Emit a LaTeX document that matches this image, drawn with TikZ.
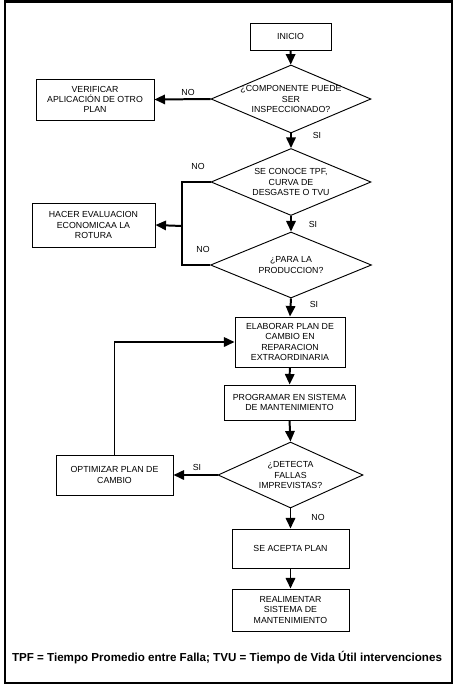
\documentclass[tikz,border=0pt]{standalone}
\usepackage{fontspec}
\setmainfont{Liberation Sans}
\usetikzlibrary{arrows.meta,shapes.geometric}

\begin{document}
\begin{tikzpicture}[
    x=0.03cm, y=-0.03cm,
    box/.style={draw, line width=0.8pt, align=center, inner sep=1pt},
    decision/.style={diamond, draw, line width=0.8pt, align=center, aspect=2.35, inner sep=-4pt},
    lbl/.style={inner sep=1pt},
    >={Triangle[length=9pt, width=8pt]},
    flow/.style={line width=1.7pt},
    font=\fontsize{7.5}{8.8}\selectfont
]
    \useasboundingbox (0,0) rectangle (457,687);
    % marco exterior
    \draw[line width=2pt] (5,1.5) rectangle (452,683);

    % nodos de la columna central
    \node[box, minimum width=2.43cm, minimum height=0.81cm] (ini) at (290.5,36.5) {INICIO};
    \node[decision, minimum width=4.8cm, minimum height=2.04cm] (d1) at (291,99)
        {¿COMPONENTE PUEDE\\SER\\INSPECCIONADO?};
    \node[decision, minimum width=4.8cm, minimum height=2.01cm] (d2) at (291,182)
        {SE CONOCE TPF,\\CURVA DE\\DESGASTE O TVU};
    \node[decision, minimum width=4.83cm, minimum height=1.98cm] (d3) at (291,265)
        {¿PARA LA\\PRODUCCION?};
    \node[box, minimum width=3.3cm, minimum height=1.5cm] (elab) at (290,342)
        {ELABORAR PLAN DE\\CAMBIO EN\\REPARACION\\EXTRAORDINARIA};
    \node[box, minimum width=3.93cm, minimum height=1.05cm] (prog) at (289.5,402.5)
        {PROGRAMAR EN SISTEMA\\DE MANTENIMIENTO};
    \node[decision, minimum width=4.35cm, minimum height=1.98cm] (d4) at (290.5,475)
        {¿DETECTA\\FALLAS\\IMPREVISTAS?};
    \node[box, minimum width=3.51cm, minimum height=1.17cm] (acep) at (290.5,548.5) {SE ACEPTA PLAN};
    \node[box, minimum width=3.51cm, minimum height=1.26cm] (realim) at (290.5,610)
        {REALIMENTAR\\SISTEMA DE\\MANTENIMIENTO};

    % nodos de la izquierda
    \node[box, minimum width=3.54cm, minimum height=1.23cm] (verif) at (95,99.5)
        {VERIFICAR\\APLICACIÓN DE OTRO\\PLAN};
    \node[box, minimum width=3.69cm, minimum height=1.32cm] (hacer) at (93.5,225)
        {HACER EVALUACION\\ECONOMICAA LA\\ROTURA};
    \node[box, minimum width=3.51cm, minimum height=1.2cm] (optim) at (114.5,475)
        {OPTIMIZAR PLAN DE\\CAMBIO};

    % unión de las dos ramas NO
    \coordinate (jn) at (182,226);

    % conectores
    \draw[flow, ->] (ini) -- (d1);
    \draw[flow, ->] (d1.west) -- (verif.east);
    \draw[flow, ->] (d1.south) -- (d2.north);
    \draw[flow] (d2.west) -| (jn) |- (d3.west);
    \draw[flow, ->] (jn) -- (hacer.east);
    \draw[flow, ->] (d2.south) -- (d3.north);
    \draw[flow, ->] (d3.south) -- (elab.north);
    \draw[flow, ->] (elab) -- (prog);
    \draw[flow, ->] (prog.south) -- (d4.north);
    \draw[flow, ->] (d4.west) -- (optim.east);
    \draw[flow, ->] (optim.north) |- (elab.west);
    \draw[flow, ->] (d4.south) -- (acep.north);
    \draw[flow, ->] (acep) -- (realim);

    % etiquetas SI / NO
    \node[lbl] (no1) at (188,92) {NO};
    \node[lbl] (si1) at (317,135) {SI};
    \node[lbl] (no2) at (198,166) {NO};
    \node[lbl] (si2) at (313,224) {SI};
    \node[lbl] (no3) at (203,249) {NO};
    \node[lbl] (si3) at (314,304) {SI};
    \node[lbl] (si4) at (197,467) {SI};
    \node[lbl] (no4) at (318,517) {NO};

    % nota al pie
    \node[font=\fontsize{9.9}{11}\selectfont\bfseries] (nota) at (227,658)
        {TPF = Tiempo Promedio entre Falla; TVU = Tiempo de Vida Útil intervenciones};
\end{tikzpicture}
\end{document}
